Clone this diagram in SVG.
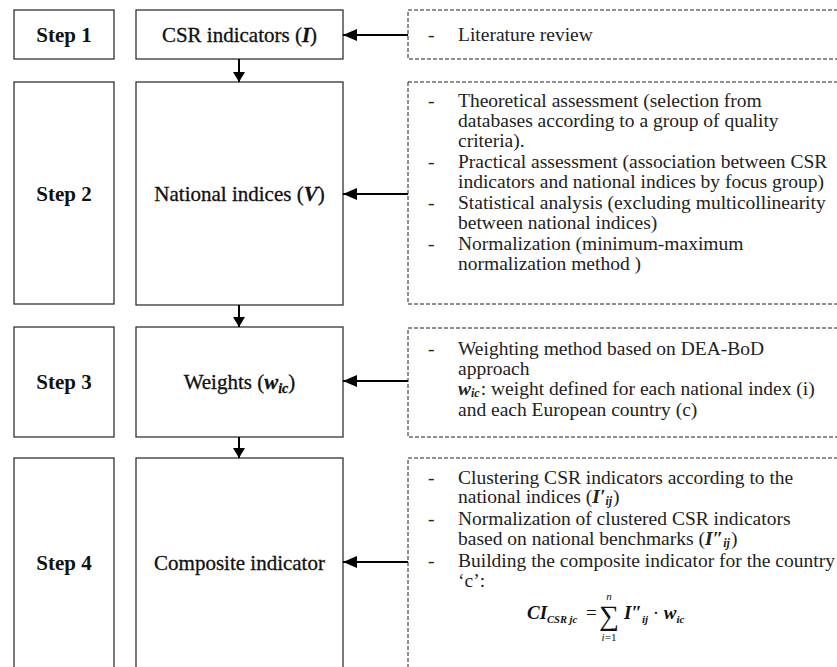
<svg xmlns="http://www.w3.org/2000/svg" width="837" height="667" viewBox="0 0 837 667">
<defs>
<style>
.box{fill:#fff;stroke:#333;stroke-width:1.3}
.dbox{fill:#fff;stroke:#222;stroke-width:1;stroke-dasharray:4 2}
.step{font-family:"Liberation Serif",serif;font-weight:bold;font-size:21px;fill:#111;text-anchor:middle}
.lbl{font-family:"Liberation Serif",serif;font-size:21px;fill:#111;stroke:#111;stroke-width:0.3;text-anchor:middle}
.d{font-family:"Liberation Serif",serif;font-size:19.5px;fill:#222}
.f{font-family:"Liberation Serif",serif;fill:#111}
.it{font-style:italic;font-weight:bold}
.conn{stroke:#000;stroke-width:2;fill:none}
</style>
<marker id="ah" viewBox="0 0 10 12" refX="10" refY="6" markerWidth="12" markerHeight="12" markerUnits="userSpaceOnUse" orient="auto">
<path d="M0,0 L10,6 L0,12 z" fill="#000"/>
</marker>
<marker id="ahH" viewBox="0 0 14 12" refX="14" refY="6" markerWidth="14" markerHeight="12" markerUnits="userSpaceOnUse" orient="auto">
<path d="M0,0 L14,6 L0,12 z" fill="#000"/>
</marker>
</defs>
<rect width="837" height="667" fill="#fff"/>

<g id="step1">
<rect class="box" x="14" y="10" width="100" height="49"/>
<text class="step" x="64" y="42">Step 1</text>
</g>
<g id="csr-indicators">
<rect class="box" x="136" y="10" width="207" height="49"/>
<text class="lbl" x="239.5" y="42">CSR indicators (<tspan class="it">I</tspan>)</text>
</g>
<g id="src1">
<rect class="dbox" x="408" y="10" width="440" height="49"/>
<text class="d" x="428" y="41">-</text>
<text class="d" x="458" y="41">Literature review</text>
</g>

<g id="step2">
<rect class="box" x="14" y="82" width="100" height="222"/>
<text class="step" x="64" y="201">Step 2</text>
</g>
<g id="national-indices">
<rect class="box" x="136" y="82" width="207" height="223"/>
<text class="lbl" x="239.5" y="201">National indices (<tspan class="it">V</tspan>)</text>
</g>
<g id="src2">
<rect class="dbox" x="408" y="82" width="440" height="222"/>
<text class="d" x="428" y="107">-</text>
<text class="d" x="458" y="107">Theoretical assessment (selection from</text>
<text class="d" x="458" y="127">databases according to a group of quality</text>
<text class="d" x="458" y="147">criteria).</text>
<text class="d" x="428" y="168">-</text>
<text class="d" x="458" y="168">Practical assessment (association between CSR</text>
<text class="d" x="458" y="188">indicators and national indices by focus group)</text>
<text class="d" x="428" y="209">-</text>
<text class="d" x="458" y="209">Statistical analysis (excluding multicollinearity</text>
<text class="d" x="458" y="229">between national indices)</text>
<text class="d" x="428" y="250">-</text>
<text class="d" x="458" y="250">Normalization (minimum-maximum</text>
<text class="d" x="458" y="270">normalization method )</text>
</g>

<g id="step3">
<rect class="box" x="14" y="327" width="100" height="110"/>
<text class="step" x="64" y="389">Step 3</text>
</g>
<g id="weights">
<rect class="box" x="136" y="327" width="207" height="110"/>
<text class="lbl" x="239.5" y="389">Weights (<tspan class="it">w</tspan><tspan class="it" font-size="14" dy="4">ic</tspan><tspan dy="-4">)</tspan></text>
</g>
<g id="src3">
<rect class="dbox" x="408" y="328" width="440" height="109"/>
<text class="d" x="428" y="355">-</text>
<text class="d" x="458" y="355">Weighting method based on DEA-BoD</text>
<text class="d" x="458" y="375">approach</text>
<text class="d" x="458" y="395"><tspan class="it">w</tspan><tspan class="it" font-size="12" dy="2">ic</tspan><tspan dy="-2" dx="1">: weight defined for each national index (i)</tspan></text>
<text class="d" x="458" y="416">and each European country (c)</text>
</g>

<g id="step4">
<rect class="box" x="14" y="458" width="100" height="220"/>
<text class="step" x="64" y="570">Step 4</text>
</g>
<g id="composite-indicator">
<rect class="box" x="136" y="458" width="207" height="220"/>
<text class="lbl" x="239.5" y="570">Composite indicator</text>
</g>
<g id="src4">
<rect class="dbox" x="408" y="458" width="440" height="220"/>
<text class="d" x="428" y="484">-</text>
<text class="d" x="458" y="484">Clustering CSR indicators according to the</text>
<text class="d" x="458" y="503">national indices (<tspan class="it">I′</tspan><tspan class="it" font-size="12" dy="2">ij</tspan><tspan dy="-2" dx="1">)</tspan></text>
<text class="d" x="428" y="525">-</text>
<text class="d" x="458" y="525">Normalization of clustered CSR indicators</text>
<text class="d" x="458" y="545">based on national benchmarks (<tspan class="it">I″</tspan><tspan class="it" font-size="12" dy="2">ij</tspan><tspan dy="-2" dx="1">)</tspan></text>
<text class="d" x="428" y="567">-</text>
<text class="d" x="458" y="567">Building the composite indicator for the country</text>
<text class="d" x="458" y="587">‘c’:</text>
</g>
<g id="formula">
<text class="f" x="527" y="619" font-size="19"><tspan class="it">CI</tspan><tspan class="it" font-size="10.5" dy="4">CSR jc</tspan></text>
<text class="f" x="586" y="619" font-size="19">=</text>
<text class="f" x="609" y="625" font-size="28" text-anchor="middle">∑</text>
<text class="f" x="609" y="600" font-size="11" font-style="italic" text-anchor="middle">n</text>
<text class="f" x="609" y="641" font-size="11" text-anchor="middle"><tspan font-style="italic">i</tspan>=1</text>
<text class="f" x="624" y="619" font-size="19"><tspan class="it">I″</tspan><tspan class="it" font-size="11" dy="4">ij</tspan><tspan dy="-4"> · </tspan><tspan class="it">w</tspan><tspan class="it" font-size="11" dy="4">ic</tspan></text>
</g>

<g id="connectors">
<line class="conn" x1="239" y1="59" x2="239" y2="82" marker-end="url(#ah)"/>
<line class="conn" x1="239" y1="305" x2="239" y2="327" marker-end="url(#ah)"/>
<line class="conn" x1="239" y1="437" x2="239" y2="458" marker-end="url(#ah)"/>
<line class="conn" x1="408" y1="35" x2="343" y2="35" marker-end="url(#ahH)"/>
<line class="conn" x1="408" y1="194" x2="343" y2="194" marker-end="url(#ahH)"/>
<line class="conn" x1="408" y1="381" x2="343" y2="381" marker-end="url(#ahH)"/>
<line class="conn" x1="408" y1="562" x2="343" y2="562" marker-end="url(#ahH)"/>
</g>
</svg>
